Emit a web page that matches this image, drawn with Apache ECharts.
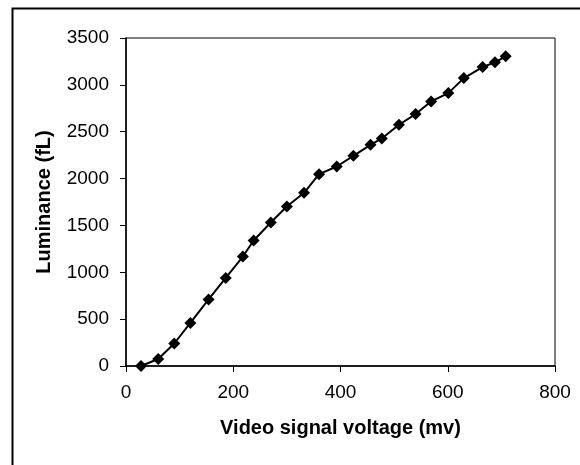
<!DOCTYPE html>
<html>
<head>
	<meta charset="utf-8">
	<title>Luminance vs video signal voltage</title>
	<script type="text/javascript" src="https://cdn.jsdelivr.net/npm/echarts@6/dist/echarts.min.js"></script>
	<style>html,body{margin:0;padding:0;background:#fff}</style>
</head>
<body>
	<div id="main" style="width:580px;height:465px;"></div>
	<script type="text/javascript">
		// data
		var voltage = [28, 60, 90, 120, 154, 186, 218, 238, 270, 300, 332, 360, 393, 424, 456, 477, 509, 540, 569, 601, 630, 665, 688, 708];
		var luminance = [0, 75, 240, 460, 710, 940, 1168, 1339, 1531, 1702, 1848, 2047, 2129, 2243, 2360, 2428, 2574, 2688, 2823, 2912, 3072, 3190, 3240, 3304];
		var xTicks = [0, 200, 400, 600, 800];
		var yTicks = [0, 500, 1000, 1500, 2000, 2500, 3000, 3500];

		var points = [];
		for (var i = 0; i < voltage.length; i++) {
			points.push([voltage[i], luminance[i]]);
		}

		var myChart = echarts.init(document.getElementById('main'));

		var font = 'Liberation Sans, Arial, Helvetica, sans-serif';

		var option = {
			animation: false,
			backgroundColor: '#fff',
			graphic: [{
				type: 'rect',
				left: 10, top: 6,
				shape: {width: 600, height: 500},
				style: {fill: 'none', stroke: '#000', lineWidth: 2}
			}],
			grid: {
				left: 126, top: 38, right: 25, bottom: 99,
				show: true,
				borderColor: '#000',
				borderWidth: 1
			},
			xAxis: {
				type: 'value',
				min: xTicks[0],
				max: xTicks[xTicks.length - 1],
				interval: 200,
				name: 'Video signal voltage (mv)',
				nameLocation: 'middle',
				nameGap: 52,
				nameTextStyle: {color: '#000', fontFamily: font, fontWeight: 'bold', fontSize: 20},
				axisLine: {lineStyle: {color: '#000', width: 1.5}},
				axisTick: {show: true, inside: false, length: 6, lineStyle: {color: '#000'}},
				axisLabel: {color: '#000', fontFamily: font, fontSize: 19, margin: 17,
					formatter: function (v) { return String(v); }},
				splitLine: {show: false}
			},
			yAxis: {
				type: 'value',
				min: yTicks[0],
				max: yTicks[yTicks.length - 1],
				interval: 500,
				name: 'Luminance (fL)',
				nameLocation: 'middle',
				nameRotate: 90,
				nameGap: 72,
				nameTextStyle: {color: '#000', fontFamily: font, fontWeight: 'bold', fontSize: 20},
				axisLine: {show: true, lineStyle: {color: '#000', width: 1.5}},
				axisTick: {show: true, inside: false, length: 6, lineStyle: {color: '#000'}},
				axisLabel: {color: '#000', fontFamily: font, fontSize: 19, margin: 17,
					formatter: function (v) { return String(v); }},
				splitLine: {show: false}
			},
			series: [{
				type: 'line',
				data: points,
				symbol: 'diamond',
				symbolSize: 12,
				lineStyle: {color: '#000', width: 2},
				itemStyle: {color: '#000'}
			}]
		};

		myChart.setOption(option);
	</script>
</body>
</html>
